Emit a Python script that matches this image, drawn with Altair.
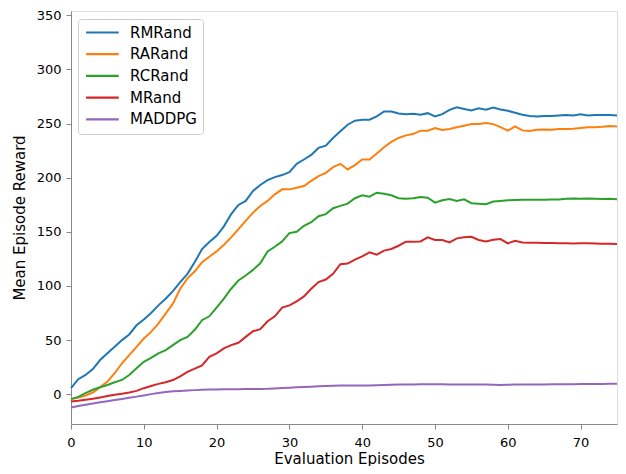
import altair as alt
import pandas as pd

episodes = list(range(76))

rmrand = [5.5, 13.8, 17.7, 23.2, 31.5, 37.7, 43.7, 49.9, 55.1, 63.6,
          68.9, 75.0, 82.0, 88.2, 95.2, 103.5, 111.1, 122.0, 134.0, 140.5,
          146.3, 155.0, 166.3, 174.8, 178.5, 187.7, 193.2, 197.8, 200.5, 202.4,
          205.0, 212.8, 216.8, 221.0, 227.5, 229.6, 236.7, 242.8, 248.9, 252.6,
          253.5, 253.5, 256.6, 261.2, 261.2, 259.3, 258.7, 259.0, 258.1, 259.6,
          256.6, 258.7, 262.7, 265.1, 263.5, 262.0, 264.2, 262.7, 264.8, 263.0,
          261.8, 260.0, 258.1, 256.9, 256.6, 256.9, 257.0, 257.5, 258.0, 257.5,
          258.5, 257.5, 257.8, 258.0, 258.0, 257.5]

rarand = [-4.6, -3.1, -1.4, 1.5, 6.4, 11.6, 19.3, 28.5, 36.1, 43.7,
          51.4, 57.5, 65.2, 74.4, 83.6, 97.4, 107.0, 113.5, 121.8, 127.0,
          131.9, 138.0, 144.8, 152.5, 160.1, 167.7, 173.9, 178.5, 184.6, 189.2,
          189.2, 190.7, 192.3, 197.0, 201.4, 204.5, 209.7, 212.8, 207.6, 211.6,
          216.8, 216.8, 222.3, 228.1, 233.0, 236.7, 239.1, 240.3, 243.4, 243.4,
          245.8, 244.0, 244.9, 246.5, 248.0, 249.5, 249.5, 250.4, 249.5, 246.7,
          243.4, 247.4, 243.7, 243.1, 244.3, 244.5, 244.3, 244.9, 245.0, 245.3,
          246.0, 246.5, 246.5, 247.0, 247.8, 247.3]

rcrand = [-4.6, -2.5, 0.9, 4.0, 6.4, 8.5, 11.0, 13.1, 17.7, 23.9,
          29.9, 33.6, 37.7, 40.7, 45.3, 49.9, 52.9, 59.5, 68.3, 71.9,
          79.9, 88.2, 97.4, 105.0, 109.6, 114.8, 120.9, 131.9, 136.2, 141.1,
          148.8, 150.0, 155.5, 158.9, 164.4, 166.3, 171.8, 173.9, 176.0, 181.0,
          183.7, 182.4, 186.1, 185.2, 183.7, 181.0, 180.6, 181.0, 182.2, 181.5,
          176.9, 179.1, 180.3, 178.5, 180.0, 176.4, 176.0, 175.5, 177.9, 178.5,
          179.1, 179.3, 179.5, 179.6, 179.7, 179.7, 179.8, 179.9, 180.5, 180.8,
          180.5, 180.8, 180.6, 180.2, 180.6, 180.0]

mrand = [-6.8, -6.2, -5.2, -4.3, -3.1, -1.8, -0.6, 0.3, 1.5, 3.0,
         5.5, 7.5, 9.5, 11.0, 13.0, 16.5, 20.5, 23.5, 26.5, 34.5,
         37.7, 42.3, 45.3, 47.4, 52.9, 58.1, 60.0, 67.3, 71.9, 79.9,
         82.0, 85.7, 90.3, 97.4, 103.5, 105.9, 111.1, 120.0, 120.6, 124.3,
         127.3, 131.0, 128.9, 132.6, 134.1, 137.1, 140.8, 140.8, 141.1, 144.8,
         142.4, 142.4, 140.2, 143.9, 145.0, 145.4, 142.4, 141.1, 142.7, 143.3,
         139.3, 141.7, 140.2, 139.9, 139.8, 139.7, 139.6, 139.5, 139.4, 139.2,
         139.3, 139.4, 139.1, 138.9, 139.0, 138.7]

maddpg = [-12.3, -11.0, -9.8, -8.6, -7.5, -6.5, -5.5, -4.5, -3.4, -2.3,
          -1.2, 0.0, 1.0, 2.0, 2.6, 3.0, 3.3, 3.7, 4.0, 4.2,
          4.3, 4.4, 4.5, 4.6, 4.7, 4.8, 4.8, 4.9, 5.2, 5.6,
          6.0, 6.3, 6.6, 6.9, 7.2, 7.6, 7.8, 7.9, 8.0, 8.0,
          7.9, 8.0, 8.2, 8.4, 8.6, 8.8, 8.9, 9.0, 9.1, 9.2,
          9.2, 9.1, 9.0, 8.9, 8.8, 8.9, 9.0, 8.8, 8.6, 8.5,
          8.6, 8.8, 8.9, 9.0, 9.0, 9.0, 9.1, 9.1, 9.2, 9.2,
          9.3, 9.3, 9.4, 9.4, 9.5, 9.5]

series_names = ["RMRand", "RARand", "RCRand", "MRand", "MADDPG"]
series_values = [rmrand, rarand, rcrand, mrand, maddpg]
series_colors = ["#1f77b4", "#ff7f0e", "#2ca02c", "#d62728", "#9467bd"]

x_ticks = [0, 10, 20, 30, 40, 50, 60, 70]
y_ticks = [0, 50, 100, 150, 200, 250, 300, 350]

rows = []
for order, (name, vals) in enumerate(zip(series_names, series_values)):
    for ep, v in zip(episodes, vals):
        rows.append({"episode": ep, "reward": v, "series": name, "order": order})
df = pd.DataFrame(rows)

FONT = "DejaVu Sans"
W, H = 546, 413

chart = alt.Chart(df).mark_line(strokeWidth=2).encode(
    x=alt.X("episode:Q",
            scale=alt.Scale(domain=[0, 75], nice=False, zero=False),
            axis=alt.Axis(title="Evaluation Episodes", values=x_ticks, grid=False,
                          tickSize=5, labelPadding=17, labelBaseline="alphabetic",
                          labelFontSize=13, titleFontSize=15, titleFontWeight="normal",
                          titleX=278, titleY=39, titleBaseline="alphabetic",
                          titleAlign="center", labelFlush=False)),
    y=alt.Y("reward:Q",
            scale=alt.Scale(domain=[-27.6, 354], nice=False, zero=False),
            axis=alt.Axis(title="Mean Episode Reward", values=y_ticks, grid=False,
                          tickSize=5, labelPadding=5, labelFontSize=13,
                          titleFontSize=15, titleFontWeight="normal",
                          titleX=-47, titleY=H / 2,
                          titleAngle=270, titleBaseline="alphabetic",
                          titleAlign="center", labelFlush=False)),
    color=alt.Color("series:N",
                    scale=alt.Scale(domain=series_names, range=series_colors),
                    legend=alt.Legend(title=None, orient="none", legendX=7, legendY=8,
                                      symbolType="M-1,0H5", symbolSize=119,
                                      symbolStrokeWidth=2.2, labelFontSize=15,
                                      labelOffset=31, rowPadding=5.7, padding=6,
                                      strokeColor="#cccccc", fillColor="white",
                                      cornerRadius=3, labelFont=FONT,
                                      labelColor="black")),
    order=alt.Order("order:Q"),
).properties(
    width=W, height=H,
    autosize=alt.AutoSizeParams(type="none"),
    padding={"left": 63, "top": 3, "right": 1, "bottom": 42},
).configure_view(
    stroke="black", strokeWidth=1
).configure_axis(
    labelFont=FONT, titleFont=FONT, labelColor="black", titleColor="black",
    domainColor="black", tickColor="black", domainWidth=1, tickWidth=1,
).configure(font=FONT, background="white")

chart.save("out.html", embed_options={"renderer": "svg", "actions": False})
